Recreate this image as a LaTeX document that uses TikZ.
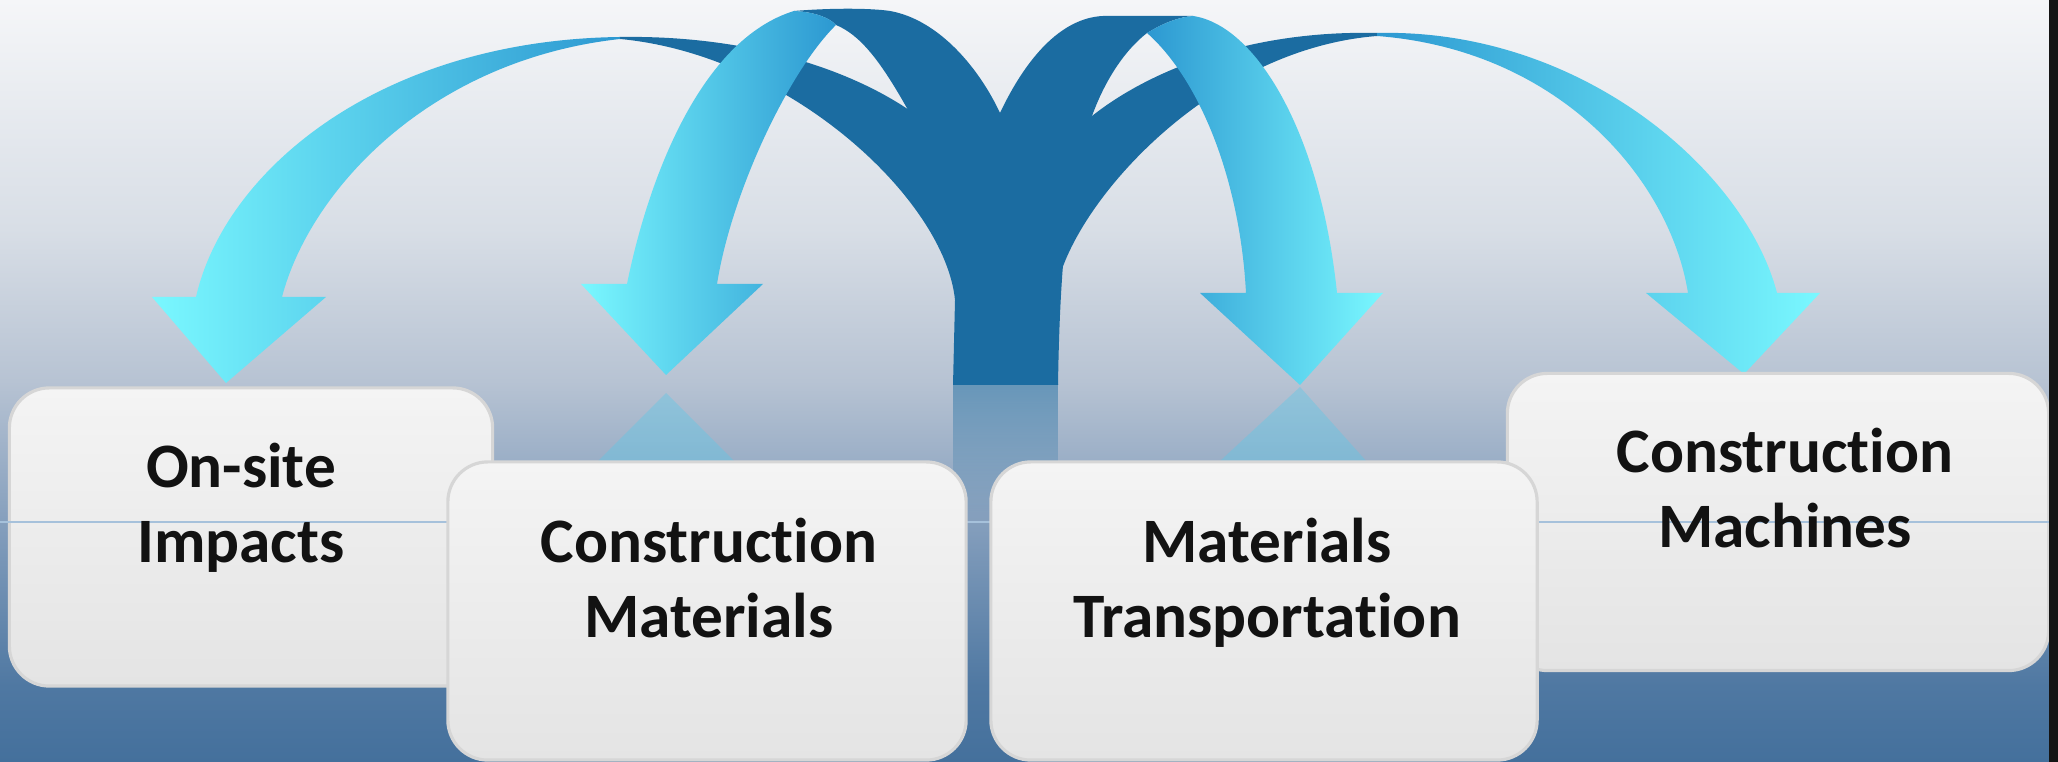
\documentclass[tikz,border=0pt]{standalone}
\usepackage{fontspec}
\setmainfont[Ligatures=NoCommon]{Carlito}
\usetikzlibrary{fadings}
\definecolor{deep}{RGB}{27,108,161}
\definecolor{aqua}{RGB}{122,248,255}
\definecolor{ocean}{RGB}{44,152,209}
\definecolor{cardtop}{RGB}{244,244,244}
\definecolor{cardbot}{RGB}{228,228,228}
\definecolor{cardline}{RGB}{214,214,214}
\definecolor{seam}{RGB}{166,193,219}
\definecolor{glint}{RGB}{92,200,232}
\definecolor{bgT}{RGB}{245,246,248}
\definecolor{bgE}{RGB}{216,222,230}
\definecolor{bgA}{RGB}{183,195,211}
\definecolor{bgB}{RGB}{129,156,187}
\definecolor{bgC}{RGB}{79,120,162}
\definecolor{bgD}{RGB}{68,112,156}
\pgfdeclareverticalshading{skyfade}{100bp}{color(0bp)=(bgD); color(25bp)=(bgD); color(30bp)=(bgC); color(40bp)=(bgB); color(50bp)=(bgA); color(60bp)=(bgE); color(75bp)=(bgT); color(100bp)=(bgT)}
\tikzfading[name=dropfade, top color=transparent!0, bottom color=transparent!100]
\tikzset{
 card/.style={draw=cardline, line width=0.9pt, rounded corners=0.4cm, top color=cardtop, bottom color=cardbot},
 lbl/.style={align=center, anchor=base, font=\bfseries\fontsize{18}{21.5}\selectfont, text=black!93},
}

\begin{document}
\begin{tikzpicture}[x=0.01cm, y=-0.01cm]
\useasboundingbox (0,0) rectangle (2058,762);
\shade[shading=skyfade] (0,0) rectangle (2058,762);

\fill[deep, path fading=dropfade, fill opacity=0.5] (953,385) rectangle (1058,520);
\fill[glint, fill opacity=0.4] (666,393) -- (735,462) -- (597,462) -- cycle;
\fill[glint, fill opacity=0.4] (1300,387) -- (1367,462) -- (1219,462) -- cycle;

\fill[deep] (620,37) .. controls (750,35) and (850,70) .. (909,110) .. controls (960,150) and (1000,250) .. (1005,385) -- (953,385) -- (955,300) .. controls (945,200) and (790,55) .. (620,39) -- cycle;
\fill[deep] (1377,33) .. controls (1250,30) and (1150,70) .. (1092,116) .. controls (1040,160) and (1010,250) .. (1010,385) -- (1058,385) -- (1055,300) .. controls (1060,220) and (1200,50) .. (1377,36) -- cycle;
\shade[left color=aqua, right color=ocean] (620,37) .. controls (380,40) and (225,170) .. (196,297) -- (152,297) -- (226,383) -- (326,297) -- (282,297) .. controls (310,190) and (430,60) .. (620,39) -- cycle;
\shade[left color=ocean, right color=aqua] (1377,33) .. controls (1580,28) and (1745,170) .. (1777,293) -- (1820,293) -- (1744,374) -- (1646,293) -- (1688,293) .. controls (1670,180) and (1560,50) .. (1377,36) -- cycle;

\fill[deep] (794,11) .. controls (830,8) and (870,8) .. (890,11) .. controls (940,20) and (980,70) .. (1000,113) .. controls (1020,160) and (1040,250) .. (1040,385) -- (960,385) .. controls (960,250) and (940,170) .. (908,110) .. controls (880,60) and (860,35) .. (836,25) .. controls (830,18) and (815,12) .. (794,11) -- cycle;
\fill[deep] (1193,16) -- (1103,16) .. controls (1060,18) and (1025,60) .. (1000,113) .. controls (985,160) and (975,250) .. (975,385) -- (1058,385) .. controls (1060,250) and (1070,170) .. (1092,116) .. controls (1105,80) and (1125,50) .. (1147,33) .. controls (1165,22) and (1180,17) .. (1193,16) -- cycle;
\shade[left color=aqua, right color=ocean] (794,11) .. controls (700,40) and (648,180) .. (627,284) -- (581,284) -- (666,375) -- (763,284) -- (717,284) .. controls (732,190) and (790,70) .. (836,25) .. controls (830,18) and (815,12) .. (794,11) -- cycle;
\shade[left color=ocean, right color=aqua] (1193,16) .. controls (1255,25) and (1320,130) .. (1337,293) -- (1383,293) -- (1300,385) -- (1200,293) -- (1246,293) .. controls (1240,180) and (1200,80) .. (1147,33) .. controls (1165,22) and (1180,17) .. (1193,16) -- cycle;

\node[card, minimum width=4.83cm, minimum height=2.98cm] (imp) at (251,537) {};
\node[card, minimum width=5.41cm, minimum height=2.97cm] (mach) at (1778,522) {};
\draw[seam, line width=0.6pt] (0,522) -- (2058,522);
\node[card, minimum width=5.18cm, minimum height=2.98cm] (mat) at (707,611) {};
\node[card, minimum width=5.46cm, minimum height=2.98cm] (trans) at (1264,611) {};

\node[lbl] (impT) at (241,563) {On-site\\Impacts};
\node[lbl] (matT) at (709,638) {Construction\\Materials};
\node[lbl] (transT) at (1267,638) {Materials\\Transportation};
\node[lbl] (machT) at (1785,548) {Construction\\Machines};

\fill[black!92] (2049,0) rectangle (2058,762);
\end{tikzpicture}
\end{document}
